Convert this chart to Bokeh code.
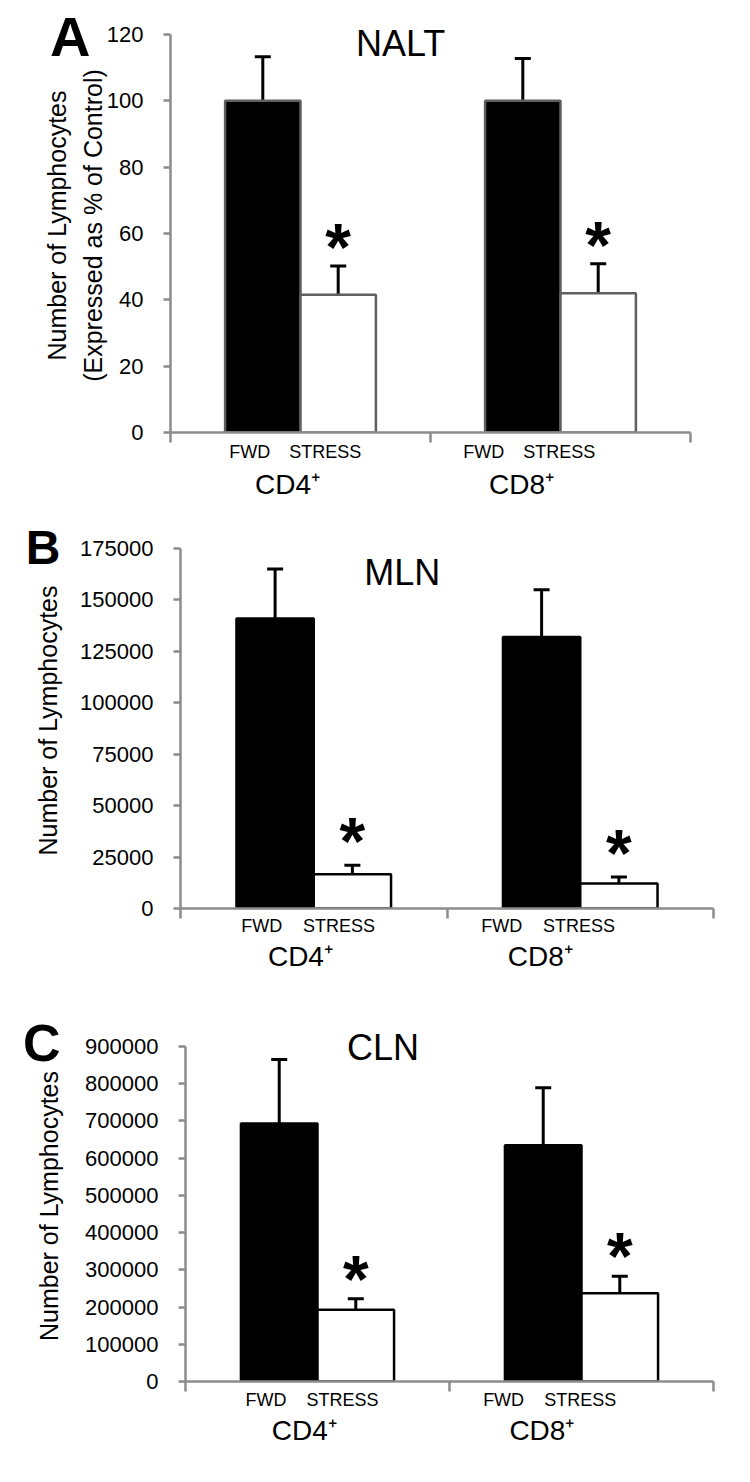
from bokeh.plotting import figure
from bokeh.models import (Range1d, FixedTicker, LinearAxis, Whisker, TeeHead,
                          Label, ColumnDataSource, NumeralTickFormatter)
from bokeh.layouts import column
from bokeh.core.properties import value
from bokeh.embed import file_html
from bokeh.resources import INLINE

# ---------------- data ----------------
groups = ["CD4\u207a", "CD8\u207a"]
conditions = ["FWD", "STRESS"]

panel_letters = ["A", "B", "C"]
panel_titles = ["NALT", "MLN", "CLN"]
y_titles = ["Number of Lymphocytes\n(Expressed as % of Control)",
            "Number of Lymphocytes",
            "Number of Lymphocytes"]

nalt_fwd = [100, 100]
nalt_fwd_se = [13.3, 12.8]
nalt_stress = [41.5, 42.0]
nalt_stress_se = [8.7, 8.9]
nalt_ticks = [0, 20, 40, 60, 80, 100, 120]

mln_fwd = [141000, 132000]
mln_fwd_se = [24000, 23000]
mln_stress = [16700, 12100]
mln_stress_se = [4300, 3200]
mln_ticks = [0, 25000, 50000, 75000, 100000, 125000, 150000, 175000]

cln_fwd = [693000, 635000]
cln_fwd_se = [172000, 154000]
cln_stress = [193000, 237000]
cln_stress_se = [29000, 46000]
cln_ticks = [0, 100000, 200000, 300000, 400000, 500000, 600000, 700000, 800000, 900000]

# ---------------- style / layout ----------------
FONT = "Liberation Sans"
AXIS_GRAY = "#8c8c8c"
BAR_W = 0.29
LABEL_SHIFT = [-0.05, -0.15]   # horizontal shift of category labels (per group)
EXT = 16                       # px of empty frame above the top tick (room for title)

layouts = [
    dict(ml=0, fw=520, fh=398, l=170, r=40, t=18, b=74, outline="#5f5f5f",
         title_pos=(0.4425, 0.978), letter_y=0.995, letter_size="56px", letter_standoff=-51,
         ylab_standoff=-3, star_off=-19, sub_standoff=-1, grp_standoff=4),
    dict(ml=10, fw=533, fh=360, l=170, r=30, t=26, b=77, outline="#000000",
         title_pos=(0.416, 0.933), letter_y=1.002, letter_size="48px", letter_standoff=-29,
         ylab_standoff=15, star_off=-24, sub_standoff=-3, grp_standoff=2),
    dict(ml=15, fw=528, fh=335, l=170, r=30, t=45, b=78, outline="#000000",
         title_pos=(0.374, 0.996), letter_y=1.010, letter_size="52px", letter_standoff=-28,
         ylab_standoff=19, star_off=-20, sub_standoff=-2, grp_standoff=2),
]


def make_panel(letter, title, ytitle, fwd, fwd_se, stress, stress_se, ticks, lay):
    ymax = ticks[-1]
    n = len(groups)
    top = ymax * (lay["fh"] + EXT) / lay["fh"]
    p = figure(frame_width=lay["fw"], frame_height=lay["fh"] + EXT,
               x_range=Range1d(0, n), y_range=Range1d(0, top),
               x_axis_type=None, output_backend="svg", toolbar_location=None,
               min_border_left=lay["l"], min_border_right=lay["r"],
               min_border_top=lay["t"], min_border_bottom=lay["b"],
               margin=(0, 0, 0, lay["ml"]))
    p.outline_line_color = None
    p.grid.grid_line_color = None
    p.background_fill_color = "white"
    p.border_fill_color = "white"

    centers = [i + 0.5 for i in range(n)]
    fwd_x = [c - BAR_W / 2 for c in centers]
    str_x = [c + BAR_W / 2 for c in centers]

    p.vbar(x=fwd_x, top=fwd, width=BAR_W, bottom=0, fill_color="black",
           line_color=lay["outline"], line_width=2.5)
    p.vbar(x=str_x, top=stress, width=BAR_W, bottom=0, fill_color="white",
           line_color=lay["outline"], line_width=2.5)

    fwd_hi = [m + s for m, s in zip(fwd, fwd_se)]
    str_hi = [m + s for m, s in zip(stress, stress_se)]
    src = ColumnDataSource(dict(base=fwd_x + str_x, lower=fwd + stress, upper=fwd_hi + str_hi))
    wk = Whisker(base="base", lower="lower", upper="upper", source=src,
                 line_color="black", line_width=3,
                 upper_head=TeeHead(size=16, line_width=3, line_color="black"),
                 lower_head=None)
    p.add_layout(wk)

    # significance asterisks above stress bars
    p.text(x=str_x, y=str_hi, text=["*"] * n, text_align="center",
           text_baseline="alphabetic", y_offset=lay["star_off"],
           text_font=value(FONT), text_font_style="bold", text_font_size="66px",
           text_color="black")

    # y axis
    ya = p.yaxis[0]
    ya.bounds = (0, ymax)
    ya.ticker = FixedTicker(ticks=ticks)
    ya.formatter = NumeralTickFormatter(format="0")
    ya.axis_line_color = AXIS_GRAY
    ya.axis_line_width = 2.5
    ya.major_tick_line_color = AXIS_GRAY
    ya.major_tick_line_width = 2.5
    ya.major_tick_out = 7
    ya.major_tick_in = 0
    ya.minor_tick_line_color = None
    ya.major_label_text_font = FONT
    ya.major_label_text_font_size = "22px"
    ya.major_label_text_color = "black"
    ya.major_label_standoff = 20
    ya.axis_label = ytitle
    ya.axis_label_text_font = FONT
    ya.axis_label_text_font_size = "25px"
    ya.axis_label_text_font_style = "normal"
    ya.axis_label_text_color = "black"
    ya.axis_label_text_line_height = 1.28
    ya.axis_label_standoff = lay["ylab_standoff"]

    # panel letter as an outer left axis label
    ly = round(lay["letter_y"] * ymax, 3)
    la = LinearAxis(ticker=FixedTicker(ticks=[ly], minor_ticks=[]),
                    major_label_overrides={ly: letter})
    la.axis_line_color = None
    la.major_tick_line_color = None
    la.minor_tick_line_color = None
    la.major_tick_out = 0
    la.major_tick_in = 0
    la.minor_tick_out = 0
    la.major_label_standoff = lay["letter_standoff"]
    la.major_label_text_font = FONT
    la.major_label_text_font_style = "bold"
    la.major_label_text_font_size = lay["letter_size"]
    la.major_label_text_color = "black"
    p.add_layout(la, "left")

    # x axis 1: line, separator ticks, FWD/STRESS labels
    sub_ticks, sub_over = [], {}
    for i in range(n):
        for j, xx in enumerate((fwd_x[i], str_x[i])):
            t = round(xx + LABEL_SHIFT[i], 4)
            sub_ticks.append(t)
            sub_over[t] = conditions[j]
    ax1 = LinearAxis(ticker=FixedTicker(ticks=sub_ticks, minor_ticks=list(range(n + 1))),
                     major_label_overrides=sub_over)
    ax1.axis_line_color = AXIS_GRAY
    ax1.axis_line_width = 2.5
    ax1.major_tick_line_color = None
    ax1.major_tick_out = 0
    ax1.major_tick_in = 0
    ax1.minor_tick_line_color = AXIS_GRAY
    ax1.minor_tick_line_width = 2.5
    ax1.minor_tick_out = 10
    ax1.minor_tick_in = 0
    ax1.major_label_text_font = FONT
    ax1.major_label_text_font_size = "18px"
    ax1.major_label_text_color = "black"
    ax1.major_label_standoff = lay["sub_standoff"]
    p.add_layout(ax1, "below")

    # x axis 2: group labels
    grp_ticks, grp_over = [], {}
    for i in range(n):
        t = round(centers[i] + LABEL_SHIFT[i], 4)
        grp_ticks.append(t)
        grp_over[t] = groups[i]
    ax2 = LinearAxis(ticker=FixedTicker(ticks=grp_ticks, minor_ticks=[]),
                     major_label_overrides=grp_over)
    ax2.axis_line_color = None
    ax2.major_tick_line_color = None
    ax2.minor_tick_line_color = None
    ax2.major_tick_out = 0
    ax2.major_tick_in = 0
    ax2.minor_tick_out = 0
    ax2.major_label_text_font = FONT
    ax2.major_label_text_font_size = "28px"
    ax2.major_label_text_color = "black"
    ax2.major_label_standoff = lay["grp_standoff"]
    p.add_layout(ax2, "below")

    # panel title
    tx, ty = lay["title_pos"]
    p.add_layout(Label(x=tx * n, y=ty * ymax, text=title, text_align="center",
                       text_baseline="middle", text_font=FONT, text_font_size="36px",
                       text_color="black"))
    return p


panels = [
    make_panel(panel_letters[0], panel_titles[0], y_titles[0], nalt_fwd, nalt_fwd_se,
               nalt_stress, nalt_stress_se, nalt_ticks, layouts[0]),
    make_panel(panel_letters[1], panel_titles[1], y_titles[1], mln_fwd, mln_fwd_se,
               mln_stress, mln_stress_se, mln_ticks, layouts[1]),
    make_panel(panel_letters[2], panel_titles[2], y_titles[2], cln_fwd, cln_fwd_se,
               cln_stress, cln_stress_se, cln_ticks, layouts[2]),
]

page = column(*panels, spacing=0)
open("out.html", "w").write(file_html(page, INLINE))
